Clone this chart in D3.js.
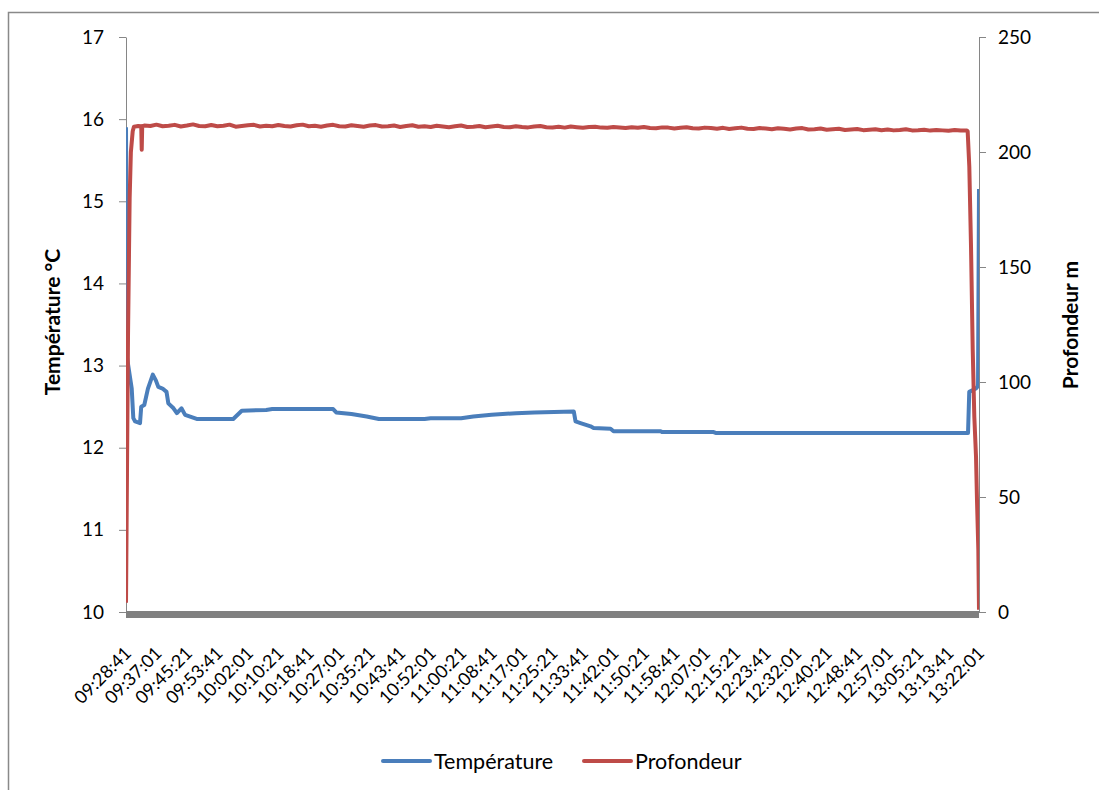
<!DOCTYPE html>
<html>
<head>
<meta charset="utf-8">
<script src="https://cdn.jsdelivr.net/npm/d3@7"></script>
<style>
  body { margin: 0; background: #fff; }
  text { font-family: Lato, "Open Sans", sans-serif; fill: #000; }
</style>
</head>
<body>
<svg id="chart" width="1099" height="790"></svg>
<script>
// Dive log: temperature and depth, time given in seconds after the first sample
const startClock = "09:28:41";

const timeLabels = [
  "09:28:41","09:37:01","09:45:21","09:53:41","10:02:01","10:10:21","10:18:41",
  "10:27:01","10:35:21","10:43:41","10:52:01","11:00:21","11:08:41","11:17:01",
  "11:25:21","11:33:41","11:42:01","11:50:21","11:58:41","12:07:01","12:15:21",
  "12:23:41","12:32:01","12:40:21","12:48:41","12:57:01","13:05:21","13:13:41","13:22:01"
];

const tempTicks = [10, 11, 12, 13, 14, 15, 16, 17];
const depthTicks = [0, 50, 100, 150, 200, 250];

// Température (°C)
const tempSec = [0,16,94,120,150,230,250,300,360,440,490,530,600,665,695,780,835,910,970,1160,
  1760,1900,2300,2400,3400,3450,3700,3950,4150,4900,5000,5500,5700,6000,6400,6700,7350,7378,
  7460,7625,7674,7953,8002,8775,8802,9645,9678,13820,13840,13950,13984,14000];
const tempVal = [15.90,13.10,12.72,12.36,12.32,12.30,12.50,12.52,12.72,12.89,12.82,12.74,12.72,
  12.68,12.54,12.48,12.42,12.48,12.40,12.35,12.35,12.45,12.46,12.47,12.47,12.43,12.41,12.38,
  12.35,12.35,12.36,12.36,12.38,12.40,12.42,12.43,12.44,12.32,12.30,12.26,12.24,12.23,12.20,
  12.20,12.19,12.19,12.18,12.18,12.68,12.72,12.75,15.15];

// Profondeur (m)
const depthSec = [0,16,33,60,80,110,130,200,250,258,266,300,
  400,500,600,700,800,900,1000,1100,1200,1300,
  1400,1500,1600,1700,1800,1900,2000,2100,2200,2300,
  2400,2500,2600,2700,2800,2900,3000,3100,3200,3300,
  3400,3500,3600,3700,3800,3900,4000,4100,4200,4300,
  4400,4500,4600,4700,4800,4900,5000,5100,5200,5300,
  5400,5500,5600,5700,5800,5900,6000,6100,6200,6300,
  6400,6500,6600,6700,6800,6900,7000,7100,7200,7300,
  7400,7500,7600,7700,7800,7900,8000,8100,8200,8300,
  8400,8500,8600,8700,8800,8900,9000,9100,9200,9300,
  9400,9500,9600,9700,9800,9900,10000,10100,10200,10300,
  10400,10500,10600,10700,10800,10900,11000,11100,11200,11300,
  11400,11500,11600,11700,11800,11900,12000,12100,12200,12300,
  12400,12500,12600,12700,12800,12900,13000,13100,13200,13300,
  13400,13500,13600,13700,13800,
  13814,13841,13869,13897,13923,13951,13967,13989,14000];
const depthVal = [4,60,120,180,200,209,211,211.3,211.2,201,211.2,211.5,
  211.3,211.9,211.2,211.4,211.8,211.1,211.5,212.0,211.3,211.2,
  211.7,211.2,211.4,211.9,211.0,211.3,211.6,211.8,211.1,211.4,
  211.2,211.7,211.3,211.1,211.6,211.9,211.2,211.4,211.0,211.5,
  211.8,211.2,211.1,211.6,211.3,211.0,211.5,211.7,211.1,211.2,
  211.5,210.9,211.3,211.6,211.0,211.2,210.9,211.4,211.1,210.8,
  211.2,211.5,210.9,211.0,211.3,210.8,211.1,211.4,210.9,210.8,
  211.2,210.9,210.7,211.1,211.3,210.8,210.7,211.0,210.6,211.1,
  210.8,210.5,210.9,211.0,210.6,210.5,210.9,210.7,210.4,210.8,
  210.5,210.9,210.4,210.3,210.7,210.6,210.2,210.5,210.8,210.3,
  210.2,210.6,210.4,210.1,210.5,210.0,210.3,210.6,210.1,210.0,
  210.4,210.2,209.9,210.3,210.1,209.8,210.2,210.4,209.8,209.9,
  210.2,209.7,209.9,210.1,209.6,209.8,210.0,209.5,209.7,209.9,
  209.5,209.8,209.4,209.6,209.9,209.4,209.5,209.7,209.3,209.6,
  209.4,209.2,209.6,209.3,209.4,
  209.0,193.6,158.8,114,85,67.5,48.7,27,1];

const W = 1099, H = 790;
const plot = { left: 126, right: 979, top: 37, bottom: 612 };
const blue = "#4a7ebb", red = "#be4b48", axisGrey = "#868686";

const toSec = s => { const [h, m, x] = s.split(":").map(Number); return h * 3600 + m * 60 + x; };
const t0 = toSec(startClock);
const labelSec = timeLabels.map(s => toSec(s) - t0);

const x = d3.scaleLinear().domain([0, d3.max(labelSec)]).range([plot.left, plot.right]);
const yT = d3.scaleLinear().domain([10, 17]).range([plot.bottom, plot.top]);
const yD = d3.scaleLinear().domain([0, 250]).range([plot.bottom, plot.top]);

const svg = d3.select("#chart");
svg.append("rect").attr("width", W).attr("height", H).attr("fill", "#fff");

// outer chart frame (runs off the right and bottom edges)
svg.append("rect").attr("x", 8.5).attr("y", 12.5).attr("width", 1200).attr("height", 900)
  .attr("fill", "none").attr("stroke", "#898989").attr("stroke-width", 1.5);

svg.append("clipPath").attr("id", "plotClip").append("rect")
  .attr("x", plot.left).attr("y", plot.top - 5)
  .attr("width", plot.right - plot.left).attr("height", plot.bottom - plot.top + 5);

// left axis: temperature
const gl = svg.append("g").attr("transform", `translate(${plot.left},0)`)
  .call(d3.axisLeft(yT).tickValues(tempTicks).tickFormat(d3.format("d"))
    .tickSize(7).tickSizeOuter(0).tickPadding(15));
gl.select(".domain").attr("stroke", axisGrey);
gl.selectAll(".tick line").attr("stroke", axisGrey);
gl.selectAll(".tick text").attr("font-size", 19).attr("fill", "#000");

// right axis: depth
const gr = svg.append("g").attr("transform", `translate(${plot.right},0)`)
  .call(d3.axisRight(yD).tickValues(depthTicks).tickFormat(d3.format("d"))
    .tickSize(7).tickSizeOuter(0).tickPadding(12));
gr.select(".domain").attr("stroke", axisGrey);
gr.selectAll(".tick line").attr("stroke", axisGrey);
gr.selectAll(".tick text").attr("font-size", 19).attr("fill", "#000");

// horizontal category axis bar
svg.append("rect").attr("x", plot.left).attr("y", plot.bottom - 1)
  .attr("width", plot.right - plot.left).attr("height", 7).attr("fill", "#808080");

// time labels, rotated
svg.append("g").selectAll("text").data(timeLabels).join("text")
  .attr("transform", (d, i) => `translate(${x(labelSec[i]) + 2},${plot.bottom + 38}) rotate(-45)`)
  .attr("text-anchor", "end").attr("dy", "0.35em")
  .attr("font-size", 18).text(d => d);

// series
const lines = svg.append("g").attr("clip-path", "url(#plotClip)");
const tempLine = d3.line().x((d, i) => x(tempSec[i])).y(d => yT(d));
const depthLine = d3.line().x((d, i) => x(depthSec[i])).y(d => yD(d));
lines.append("path").datum(tempVal).attr("d", tempLine)
  .attr("fill", "none").attr("stroke", blue).attr("stroke-width", 4).attr("stroke-linejoin", "round");
lines.append("path").datum(depthVal).attr("d", depthLine)
  .attr("fill", "none").attr("stroke", red).attr("stroke-width", 4).attr("stroke-linejoin", "round");

// axis titles
svg.append("text").attr("transform", "translate(60,322) rotate(-90)")
  .attr("text-anchor", "middle").attr("font-size", 21).attr("font-weight", "bold")
  .text("Température °C");
svg.append("text").attr("transform", "translate(1078,325) rotate(-90)")
  .attr("text-anchor", "middle").attr("font-size", 21).attr("font-weight", "bold")
  .text("Profondeur m");

// legend
const legend = [{ name: "Température", color: blue, x: 383 }, { name: "Profondeur", color: red, x: 584 }];
const lg = svg.append("g").selectAll("g").data(legend).join("g")
  .attr("transform", d => `translate(${d.x},761)`);
lg.append("line").attr("x1", 0).attr("x2", 47).attr("stroke", d => d.color)
  .attr("stroke-width", 4).attr("stroke-linecap", "round");
lg.append("text").attr("x", 51).attr("dy", "0.35em").attr("font-size", 21.5).attr("fill", "#262626")
  .text(d => d.name);
</script>
</body>
</html>
